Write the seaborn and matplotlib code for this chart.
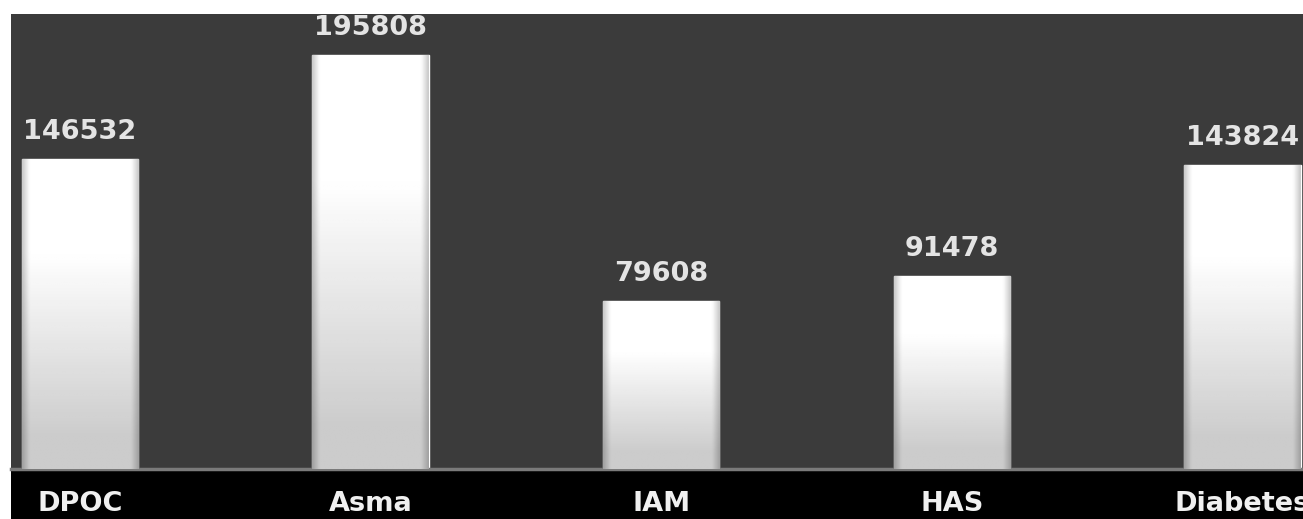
import numpy as np
import pandas as pd
import seaborn as sns
import matplotlib.pyplot as plt
from matplotlib.patches import Rectangle

# data
doencas = ['DPOC', 'Asma', 'IAM', 'HAS', 'Diabetes']
internacoes = [146532, 195808, 79608, 91478, 143824]

df = pd.DataFrame({'doenca': doencas, 'valor': internacoes})

sns.set_style('white')
plt.rcParams['font.family'] = ['DejaVu Sans']

fig = plt.figure(figsize=(13.03, 5.19), dpi=100)
fig.patch.set_facecolor('white')

# black strip under the panel
fig.patches.append(Rectangle((11 / 1303, 0), 1 - 11 / 1303, 50 / 519,
                             transform=fig.transFigure, facecolor='black',
                             edgecolor='none', zorder=-5))

ax = fig.add_axes([11 / 1303, 50 / 519, 1 - 11 / 1303, 455 / 519])
ax.set_facecolor('#3b3b3b')

sns.barplot(data=df, x='doenca', y='valor', color='white', width=0.4,
            saturation=1, ax=ax)

# gradient fill inside each bar
ny, nx = 100, 60
yy = np.linspace(1, 0, ny)[:, None]
xx = np.linspace(-1, 1, nx)[None, :]
vert = np.clip(0.80 + 0.20 * (yy - 0.1) / 0.6, 0.80, 1.0)
edge = 1 - 0.2 * np.clip((np.abs(xx) - 0.88) / 0.12, 0, 1)
grad = vert * edge
for p in ax.patches:
    x0, w, h = p.get_x(), p.get_width(), p.get_height()
    im = ax.imshow(grad, extent=[x0, x0 + w, 0, h], cmap='gray', vmin=0,
                   vmax=1, aspect='auto', zorder=3, interpolation='bilinear')
    im.set_clip_path(p)
ax.set_xlim(-0.2375, 4.2086)
ax.set_ylim(0, 215200)

ax.bar_label(ax.containers[0], labels=[str(v) for v in internacoes],
             padding=10, color='#e4e4e4', fontsize=19.5, fontweight='bold',
             clip_on=False, zorder=4)

ax.set_xlabel('')
ax.set_ylabel('')
ax.set_yticks([])
ax.tick_params(axis='x', length=0, pad=16, labelsize=19.5, labelcolor='#f0f0f0')
for lbl in ax.get_xticklabels():
    lbl.set_fontweight('bold')
for s in ['top', 'left', 'right']:
    ax.spines[s].set_visible(False)
ax.spines['bottom'].set_color('#7a7a7a')
ax.spines['bottom'].set_linewidth(2.5)

fig.savefig('out.png', dpi=100)
